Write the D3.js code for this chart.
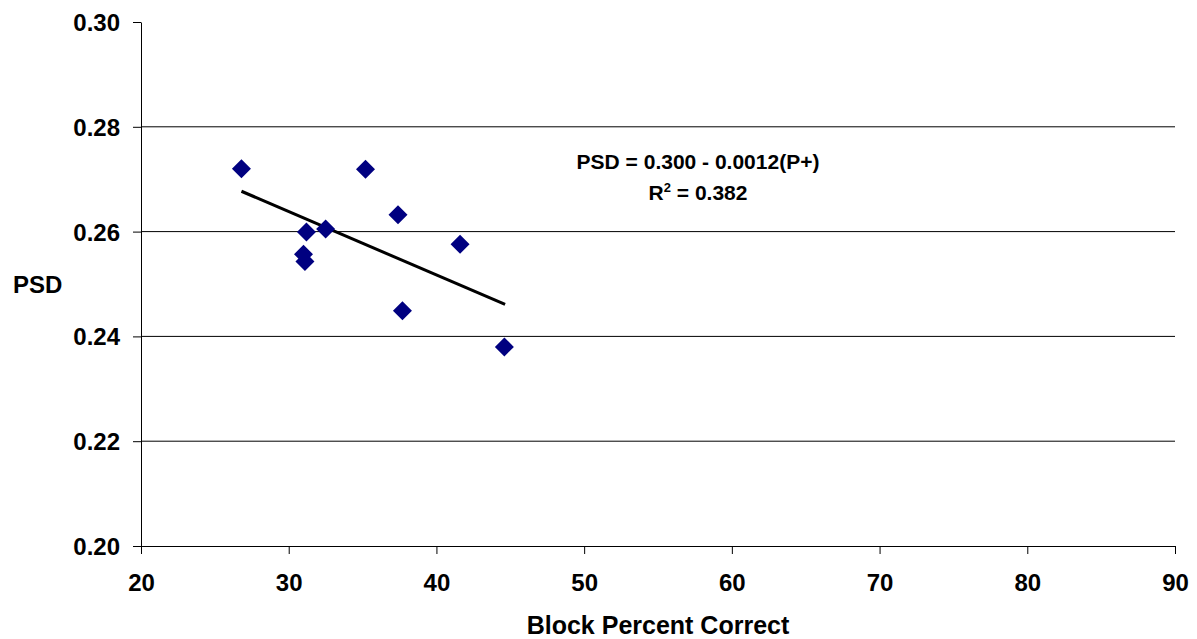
<!DOCTYPE html>
<html>
<head>
<meta charset="utf-8">
<script src="https://cdn.jsdelivr.net/npm/d3@7"></script>
<style>
    body { margin: 0; background: #fff; }
    text { font-family: "Liberation Sans", Arial, sans-serif; font-weight: bold; fill: #000; }
</style>
</head>
<body>
<div class="graph-goes-here"></div>
<script>
// block percent correct (x) and PSD (y) for each subject
var blockPct = [26.8, 35.2, 37.4, 41.6, 31.2, 32.5, 31.0, 31.1, 37.7, 44.6];
var psdValues = [0.2720, 0.2719, 0.2632, 0.2576, 0.2599, 0.2605, 0.2557, 0.2543, 0.2449, 0.2380];

// regression line end points
var trendX = [26.8, 44.65];
var trendY = [0.2677, 0.2461];

var xTicks = [20, 30, 40, 50, 60, 70, 80, 90];
var yTicks = [0.20, 0.22, 0.24, 0.26, 0.28, 0.30];
var gridTicks = [0.22, 0.24, 0.26, 0.28];

var equationText = "PSD = 0.300 - 0.0012(P+)";
var rSquared = "0.382";

var margin = { top: 22, right: 22, bottom: 93, left: 141 },
    width = 1197 - margin.left - margin.right,
    height = 639 - margin.top - margin.bottom;

var svg = d3.select(".graph-goes-here")
    .append("svg")
    .attr("width", width + margin.left + margin.right)
    .attr("height", height + margin.top + margin.bottom)
    .append("g")
    .attr("transform", "translate(" + margin.left + "," + margin.top + ")");

var xScale = d3.scaleLinear().domain([20, 90]).range([0, width]);
var yScale = d3.scaleLinear().domain([0.20, 0.30]).range([height, 0]);

// horizontal gridlines
svg.append("g")
    .selectAll("line")
    .data(gridTicks)
    .join("line")
    .attr("x1", 0)
    .attr("x2", width)
    .attr("y1", d => yScale(d))
    .attr("y2", d => yScale(d))
    .attr("stroke", "#000")
    .attr("stroke-width", 1);

var xAxis = svg.append("g")
    .attr("transform", "translate(0," + height + ")")
    .call(d3.axisBottom(xScale).tickValues(xTicks).tickSize(8).tickSizeOuter(0).tickFormat(d3.format("d")));

var yAxis = svg.append("g")
    .call(d3.axisLeft(yScale).tickValues(yTicks).tickSize(8).tickSizeOuter(0).tickFormat(d3.format(".2f")));

[xAxis, yAxis].forEach(ax => {
    ax.selectAll("path, line").attr("stroke", "#000").attr("stroke-width", 1);
    ax.selectAll("text").attr("fill", "#000").style("font-size", "24px").attr("font-family", null);
});

xAxis.selectAll("text").attr("y", 45).attr("dy", null);
yAxis.selectAll("text").attr("x", -21).attr("dy", "0.35em");

// trend line
svg.append("path")
    .datum(d3.zip(trendX, trendY))
    .attr("fill", "none")
    .attr("stroke", "#000")
    .attr("stroke-width", 3)
    .attr("d", d3.line()
        .x(d => xScale(d[0]))
        .y(d => yScale(d[1]))
    );

// diamond markers
var points = d3.zip(blockPct, psdValues);
svg.append("g")
    .selectAll("path")
    .data(points)
    .join("path")
    .attr("transform", d => "translate(" + xScale(d[0]) + "," + yScale(d[1]) + ")")
    .attr("d", "M0,-9.5L9.5,0L0,9.5L-9.5,0Z")
    .attr("fill", "#000080");

// equation annotation
svg.append("text")
    .attr("x", 698 - margin.left)
    .attr("y", 169 - margin.top)
    .attr("text-anchor", "middle")
    .style("font-size", "21px")
    .text(equationText);

var r2 = svg.append("text")
    .attr("x", 698 - margin.left)
    .attr("y", 200 - margin.top)
    .attr("text-anchor", "middle")
    .style("font-size", "21px");
r2.append("tspan").text("R");
r2.append("tspan").attr("dy", -8).style("font-size", "13px").text("2");
r2.append("tspan").attr("dy", 8).text(" = " + rSquared);

// axis titles
svg.append("text")
    .attr("x", 658 - margin.left)
    .attr("y", 634 - margin.top)
    .attr("text-anchor", "middle")
    .style("font-size", "25px")
    .text("Block Percent Correct");

svg.append("text")
    .attr("x", 13 - margin.left)
    .attr("y", 293 - margin.top)
    .style("font-size", "24px")
    .text("PSD");
</script>
</body>
</html>
